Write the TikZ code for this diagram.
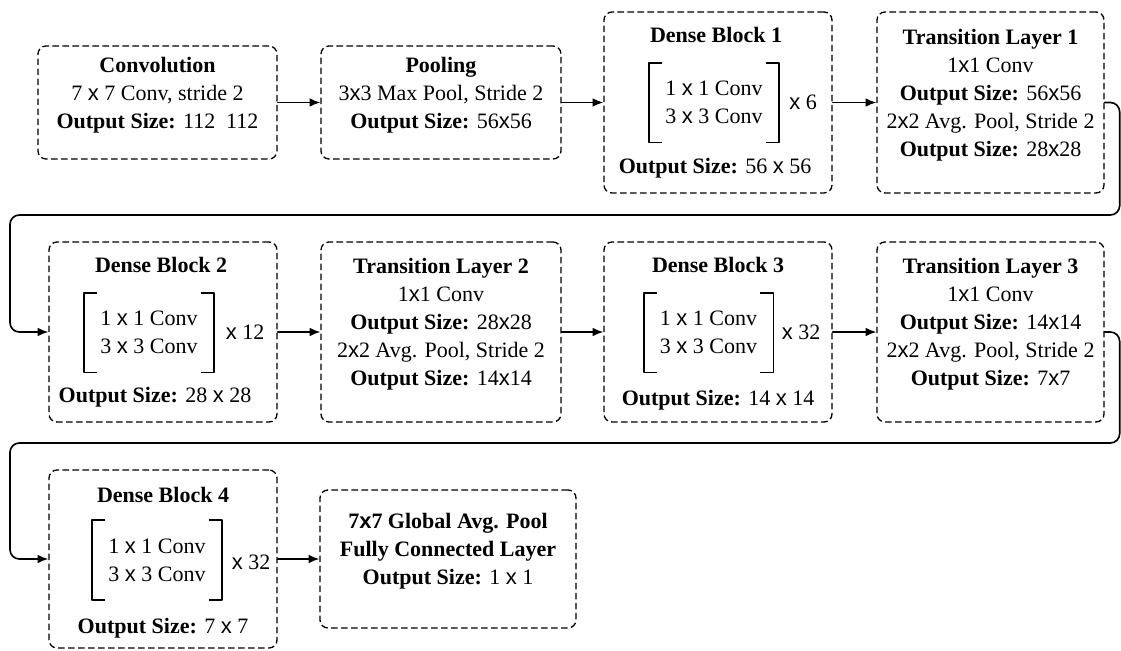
\documentclass[tikz,border=0pt]{standalone}
\usepackage{fontspec}
\setmainfont{Liberation Serif}
\newfontfamily\mulfont{Liberation Sans}
\newcommand{\mul}{{\mulfont x}}
\usetikzlibrary{arrows.meta,fit}

\begin{document}
\begin{tikzpicture}[x=0.75pt,y=-0.75pt,line cap=round,line join=round,
    every node/.style={font=\fontsize{16.5}{21}\selectfont, align=center, inner sep=0pt},
    layer/.style={draw, line width=1pt, line cap=butt, dash pattern=on 5pt off 2.5pt, rounded corners=6pt},
    bracketbox/.style={minimum width=97pt, minimum height=59.5pt},
    brack/.style={line width=1.4pt, line cap=butt},
    conn/.style={line width=1.25pt, -{Latex[length=8pt,width=6.5pt]}},
    wrap/.style={conn, rounded corners=7pt}]
    \useasboundingbox (0,0) rectangle (1121,650);

    % row 1
    \node[layer, fit={(38,46) (277,159)}] (conv)
      {\textbf{Convolution}\\7 \mul{} 7 Conv, stride 2\\\textbf{Output Size:} 112\ \ 112};
    \node[layer, fit={(321,46) (561,159)}] (pool)
      {\textbf{Pooling}\\3\mul3 Max Pool, Stride 2\\\textbf{Output Size:} 56\mul56};
    \node[layer, fit={(604,12) (832,193)}] (db1) {};
    \node (t1) at (716,35) {\textbf{Dense Block 1}};
    \node[bracketbox] (in1) at (714,102.5) {1 \mul{} 1 Conv\\3 \mul{} 3 Conv};
    \node (r1) at (803,102.5) {\mul{} 6};
    \node (o1) at (715,168) {\textbf{Output Size:} 56 \mul{} 56};
    \node[layer, fit={(877,12) (1104,193)}] (tl1)
      {\textbf{Transition Layer 1}\\1\mul1 Conv\\\textbf{Output Size:} 56\mul56\\
       2\mul2 Avg. Pool, Stride 2\\\textbf{Output Size:} 28\mul28};

    % row 2
    \node[layer, fit={(49,242) (277,422)}] (db2) {};
    \node (t2) at (161,265) {\textbf{Dense Block 2}};
    \node[bracketbox] (in2) at (149,332.5) {1 \mul{} 1 Conv\\3 \mul{} 3 Conv};
    \node (r2) at (245,332.5) {\mul{} 12};
    \node (o2) at (155,397) {\textbf{Output Size:} 28 \mul{} 28};
    \node[layer, fit={(321,242) (561,422)}] (tl2)
      {\textbf{Transition Layer 2}\\1\mul1 Conv\\\textbf{Output Size:} 28\mul28\\
       2\mul2 Avg. Pool, Stride 2\\\textbf{Output Size:} 14\mul14};
    \node[layer, fit={(604,242) (832,422)}] (db3) {};
    \node (t3) at (718,265) {\textbf{Dense Block 3}};
    \node[bracketbox] (in3) at (708.5,332.5) {1 \mul{} 1 Conv\\3 \mul{} 3 Conv};
    \node (r3) at (801,332.5) {\mul{} 32};
    \node (o3) at (718,400) {\textbf{Output Size:} 14 \mul{} 14};
    \node[layer, fit={(877,242) (1104,422)}] (tl3)
      {\textbf{Transition Layer 3}\\1\mul1 Conv\\\textbf{Output Size:} 14\mul14\\
       2\mul2 Avg. Pool, Stride 2\\\textbf{Output Size:} 7\mul7};

    % row 3
    \node[layer, fit={(49,470) (277,648)}] (db4) {};
    \node (t4) at (163,495) {\textbf{Dense Block 4}};
    \node[bracketbox] (in4) at (157,560) {1 \mul{} 1 Conv\\3 \mul{} 3 Conv};
    \node (r4) at (251,562) {\mul{} 32};
    \node (o4) at (163,628) {\textbf{Output Size:} 7 \mul{} 7};
    \node[layer, fit={(320,490) (576,628)}] (fin)
      {\textbf{7\mul7 Global Avg. Pool}\\\textbf{Fully Connected Layer}\\\textbf{Output Size:} 1 \mul{} 1};

    % brackets
    \foreach \b in {in1,in2,in3,in4} {
      \draw[brack] ([xshift=10pt]\b.north west) -- (\b.north west) -- (\b.south west) -- ([xshift=10pt]\b.south west);
      \draw[brack] ([xshift=-10pt]\b.north east) -- (\b.north east) -- (\b.south east) -- ([xshift=-10pt]\b.south east);
    }

    % connectors
    \coordinate (lane1) at (10,215);
    \coordinate (lane2) at (10,443);
    \draw[conn] (conv) -- (pool);
    \draw[conn] (pool) -- (db1);
    \draw[conn] (db1) -- (tl1);
    \draw[wrap] (tl1.east) -- ++(15,0) |- (lane1) |- (db2.west);
    \draw[conn] (db2) -- (tl2);
    \draw[conn] (tl2) -- (db3);
    \draw[conn] (db3) -- (tl3);
    \draw[wrap] (tl3.east) -- ++(15,0) |- (lane2) |- (db4.west);
    \draw[conn] (db4.east) -- (db4.east -| fin.west);
  \end{tikzpicture}
\end{document}
